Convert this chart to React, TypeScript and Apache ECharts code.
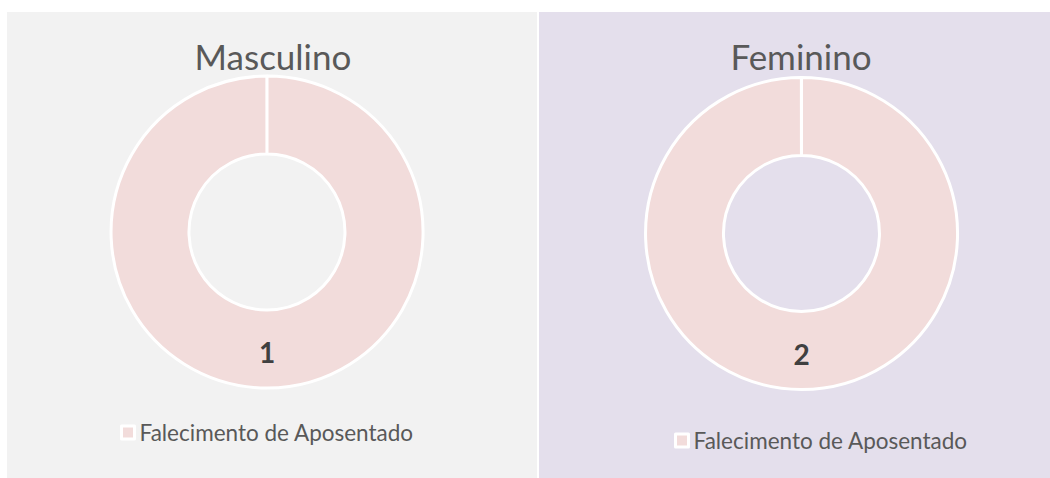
import React, { useEffect, useRef } from "react";
import * as echarts from "echarts";

const seriesName = "Falecimento de Aposentado";
const panelTitles = ["Masculino", "Feminino"];
const panelValues = [1, 2];
const panelBackgrounds = ["#f2f2f2", "#e4dfec"];
const sliceColor = "#f2dcdb";
const FONT = "Lato, 'Open Sans', sans-serif";

type PanelProps = {
  title: string;
  value: number;
  bg: string;
  box: { left: number; top: number; width: number; height: number };
  center: [number, number];
  titleX: number;
  titleY: number;
  legendLeft: number;
  legendTop: number;
};

function Panel(p: PanelProps) {
  const ref = useRef<HTMLDivElement>(null);
  useEffect(() => {
    if (!ref.current) return;
    const chart = echarts.init(ref.current, undefined, { renderer: "svg" });
    chart.setOption({
      animation: false,
      backgroundColor: p.bg,
      title: {
        text: p.title,
        left: p.titleX,
        top: p.titleY,
        textAlign: "center",
        textStyle: { fontFamily: FONT, fontSize: 35, fontWeight: "normal", color: "#595959" },
      },
      legend: {
        left: p.legendLeft,
        top: p.legendTop,
        icon: "rect",
        itemWidth: 13,
        itemHeight: 13,
        itemGap: 10,
        itemStyle: { borderColor: "#ffffff", borderWidth: 3 },
        textStyle: { fontFamily: FONT, fontSize: 22.5, color: "#595959" },
        data: [seriesName],
      },
      series: [
        {
          type: "pie",
          center: p.center,
          radius: [78, 156],
          startAngle: 90,
          endAngle: -269.95,
          clockwise: true,
          silent: true,
          itemStyle: { color: sliceColor, borderColor: "#ffffff", borderWidth: 3 },
          label: {
            show: true,
            position: "inside",
            formatter: "{c}",
            fontFamily: FONT,
            fontSize: 28,
            fontWeight: "bold",
            color: "#404040",
          },
          labelLine: { show: false },
          data: [{ name: seriesName, value: p.value }],
        },
      ],
    });
    return () => chart.dispose();
  }, []);
  return (
    <div
      ref={ref}
      style={{ position: "absolute", left: p.box.left, top: p.box.top, width: p.box.width, height: p.box.height }}
    />
  );
}

export default function App() {
  return (
    <div style={{ position: "fixed", left: 0, top: 0, width: 1050, height: 478, background: "#ffffff" }}>
      <Panel
        title={panelTitles[0]}
        value={panelValues[0]}
        bg={panelBackgrounds[0]}
        box={{ left: 7, top: 12, width: 530, height: 466 }}
        center={[260, 220]}
        titleX={261}
        titleY={21}
        legendLeft={108}
        legendTop={404}
      />
      <Panel
        title={panelTitles[1]}
        value={panelValues[1]}
        bg={panelBackgrounds[1]}
        box={{ left: 539, top: 12, width: 511, height: 466 }}
        center={[262.5, 221.5]}
        titleX={257}
        titleY={21}
        legendLeft={130}
        legendTop={412}
      />
    </div>
  );
}
